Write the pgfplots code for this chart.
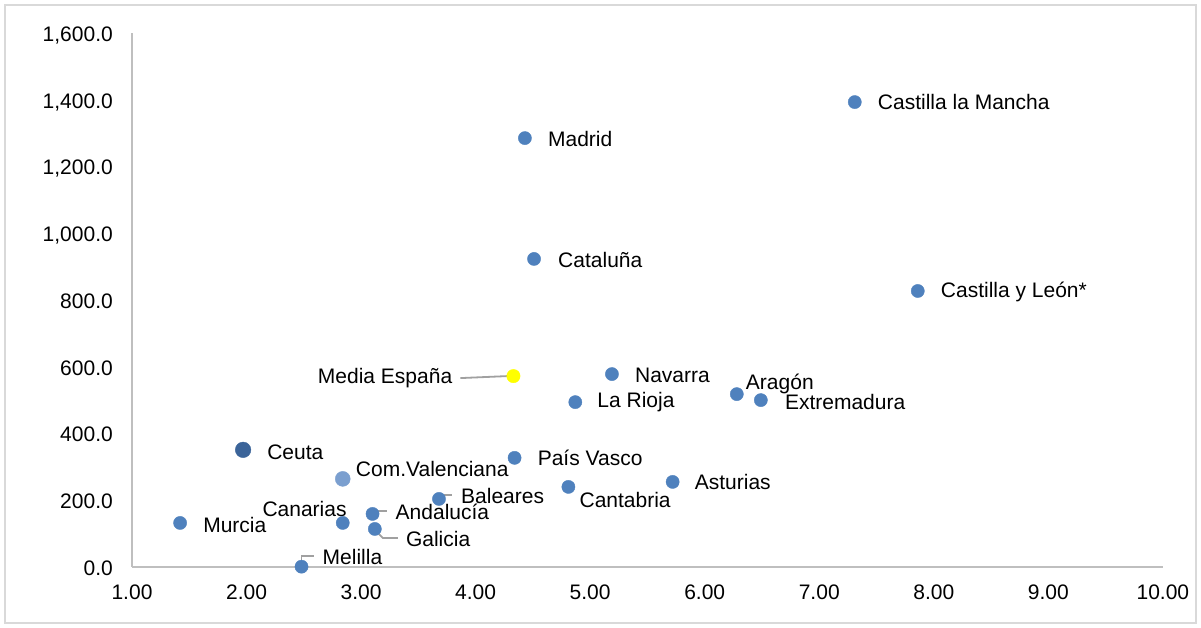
\documentclass[border=0pt]{standalone}
\usepackage{fontspec}
\setmainfont{Liberation Sans}
\usepackage{pgfplots}
\usepackage{pgfplotstable}
\pgfplotsset{compat=1.18}
\definecolor{ptblue}{HTML}{4F81BD}
\definecolor{ptdark}{HTML}{3B6499}
\definecolor{ptlight}{HTML}{7B9FCF}
\definecolor{ptyellow}{HTML}{FFFF00}
\definecolor{bordergray}{HTML}{D9D9D9}
\definecolor{axisgray}{HTML}{BFBFBF}
\definecolor{leadergray}{HTML}{A0A0A0}

\pgfplotstableread{
x y
7.31 1393
4.43 1285
4.51 923
7.86 827
5.19 578
4.87 494
6.28 518
6.49 500
4.34 327
3.68 204
4.81 240
5.72 255
1.42 132
2.84 132
3.10 159
3.12 114
2.48 1
}\regions

\pgfplotstableread{
x y
1.97 351
}\ceuta

\pgfplotstableread{
x y
2.84 264
}\valencia

\pgfplotstableread{
x y
4.33 572
}\media

\newcommand{\lbl}[5]{% x y dx dy text (anchor west)
  \node[anchor=west, inner sep=0pt, text=black] at ([shift={(#3bp,#4bp)}]axis cs:#1,#2) {#5};}
\newcommand{\lble}[5]{% anchor east
  \node[anchor=east, inner sep=0pt, text=black] at ([shift={(#3bp,#4bp)}]axis cs:#1,#2) {#5};}

\begin{document}
\begin{tikzpicture}[x=1bp,y=1bp,font=\fontsize{21bp}{25bp}\selectfont]
\useasboundingbox (-132,-61) rectangle (1069,567);
\draw[bordergray, line width=1.5bp] (-127,-56) rectangle (1064,562);
\begin{axis}[
  at={(0,0)}, anchor=south west,
  scale only axis, width=1031bp, height=534bp,
  xmin=1, xmax=10, ymin=0, ymax=1600,
  axis x line*=bottom, axis y line*=left,
  axis line style={draw=axisgray, line width=1.3bp, -},
  xtick={1,2,...,10}, ytick={0,200,...,1600},
  major tick length=0pt, minor tick length=0pt,
  /pgf/number format/assume math mode=true,
  xticklabel style={anchor=north, inner sep=0pt, yshift=-18bp,
    /pgf/number format/.cd, fixed, fixed zerofill, precision=2, assume math mode=true},
  yticklabel style={anchor=base east, inner sep=0pt, xshift=-19bp, yshift=-8.5bp,
    /pgf/number format/.cd, fixed, fixed zerofill, precision=1, 1000 sep={,}, assume math mode=true},
  clip=false,
]
% leader lines
\draw[leadergray, line width=1.8bp] ([shift={(-53bp,-2bp)}]axis cs:4.33,572) -- ([shift={(-6bp,0bp)}]axis cs:4.33,572);
\draw[leadergray, line width=1.8bp] ([shift={(5bp,4bp)}]axis cs:3.68,204) -- ([shift={(13bp,4bp)}]axis cs:3.68,204);
\draw[leadergray, line width=1.8bp] ([shift={(5bp,3bp)}]axis cs:3.10,159) -- ([shift={(14bp,3bp)}]axis cs:3.10,159);
\draw[leadergray, line width=1.8bp] ([shift={(4bp,-5bp)}]axis cs:3.12,114) -- ([shift={(8bp,-9bp)}]axis cs:3.12,114) -- ([shift={(23bp,-9bp)}]axis cs:3.12,114);
\draw[leadergray, line width=1.8bp] ([shift={(0bp,6bp)}]axis cs:2.48,1) -- ([shift={(0bp,11bp)}]axis cs:2.48,1) -- ([shift={(12bp,11bp)}]axis cs:2.48,1);

\addplot[only marks, mark=*, mark size=6.6bp, mark options={draw=ptblue, fill=ptblue}]
  table[x=x, y=y] {\regions};
\addplot[only marks, mark=*, mark size=7.8bp, mark options={draw=ptdark, fill=ptdark}]
  table[x=x, y=y] {\ceuta};
\addplot[only marks, mark=*, mark size=7.5bp, mark options={draw=ptlight, fill=ptlight}]
  table[x=x, y=y] {\valencia};
\addplot[only marks, mark=*, mark size=6.7bp, mark options={draw=ptyellow, fill=ptyellow}]
  table[x=x, y=y] {\media};

% data labels
\lbl{7.31}{1393}{23}{0}{Castilla la Mancha}
\lbl{4.43}{1285}{23}{-1}{Madrid}
\lbl{4.51}{923}{24}{-1}{Cataluña}
\lbl{7.86}{827}{23}{-1}{Castilla y León*}
\lbl{5.19}{578}{23}{-1}{Navarra}
\lbl{4.87}{494}{22}{0}{La Rioja}
\lbl{6.28}{518}{9}{10}{Aragón}
\lbl{6.49}{500}{24}{-2}{Extremadura}
\lbl{4.34}{327}{23}{0}{País Vasco}
\lbl{3.68}{204}{22}{3}{Baleares}
\lbl{4.81}{240}{11}{-13}{Cantabria}
\lbl{5.72}{255}{22}{0}{Asturias}
\lbl{1.42}{132}{23}{-2}{Murcia}
\lble{2.84}{132}{4}{14}{Canarias}
\lbl{3.10}{159}{23}{2}{Andalucía}
\lbl{3.12}{114}{31}{-10}{Galicia}
\lbl{2.48}{1}{21}{10}{Melilla}
\lbl{1.97}{351}{24}{-2}{Ceuta}
\lbl{2.84}{264}{13}{10}{Com.Valenciana}
\lble{4.33}{572}{-61}{-2}{Media España}
\end{axis}
\end{tikzpicture}
\end{document}
